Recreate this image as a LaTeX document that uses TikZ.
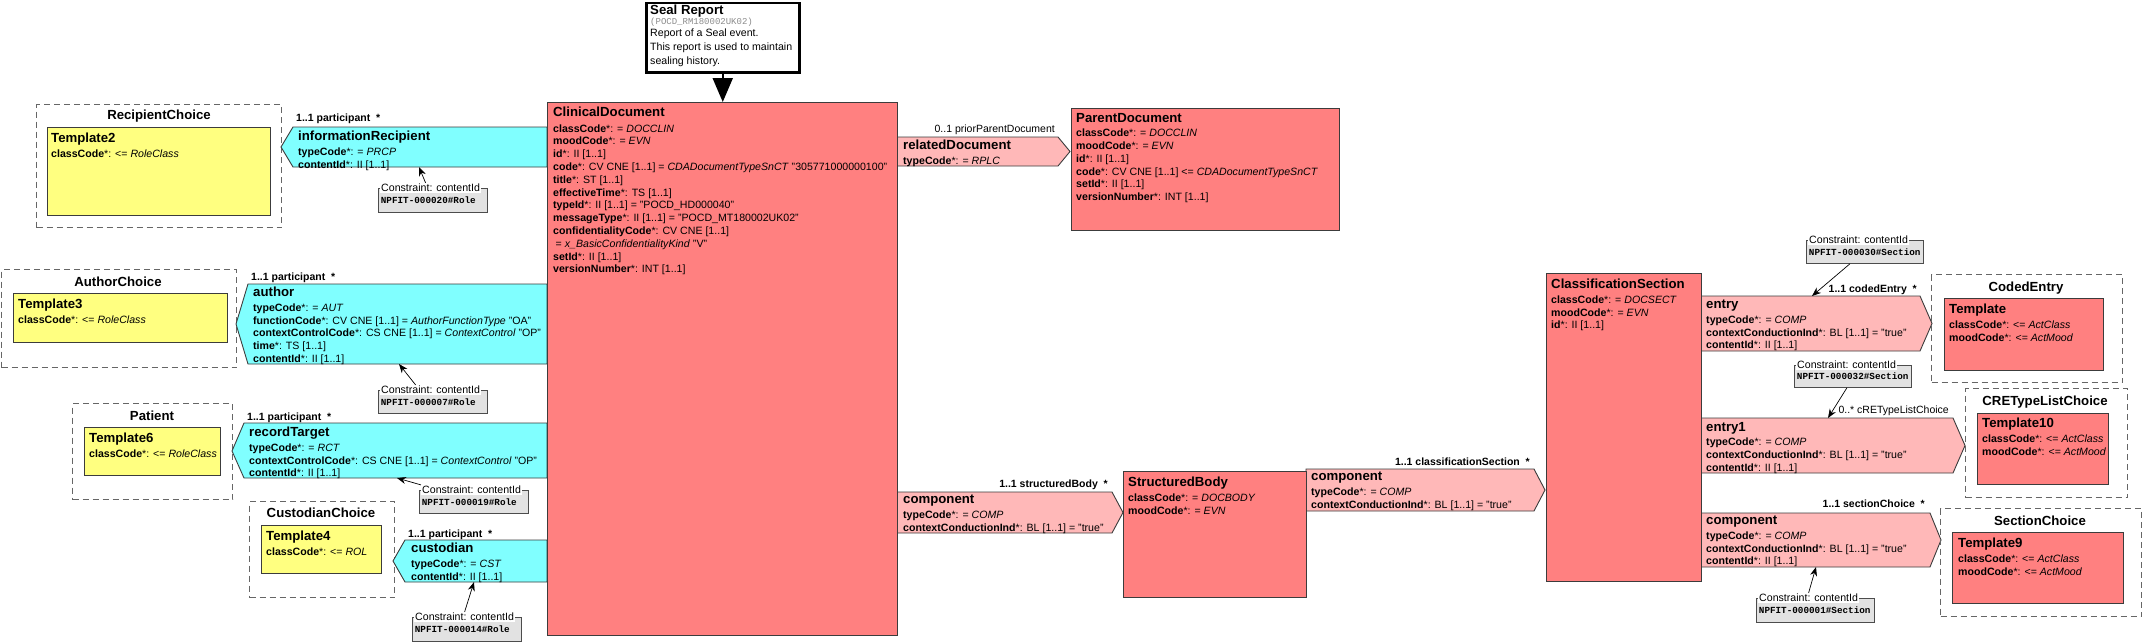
\documentclass[tikz,border=0pt]{standalone}
\usepackage{fontspec}
\setmainfont{Liberation Sans}
\newfontfamily\codefont{Liberation Mono}
\usetikzlibrary{arrows.meta,positioning}

\definecolor{clsred}{RGB}{255,128,128}
\definecolor{rolecyan}{RGB}{128,255,255}
\definecolor{actpink}{RGB}{255,184,184}
\definecolor{tplyellow}{RGB}{255,255,128}
\definecolor{cgray}{RGB}{226,226,226}
\definecolor{edge}{RGB}{60,60,60}

\newcommand\clsttl{\fontsize{13.2}{15}\selectfont\bfseries}
\newcommand\fld[1]{\textbf{#1}*:}

\begin{document}
\begin{tikzpicture}[x=1pt,y=-1pt,
    cls/.style={draw=edge,fill=clsred,line width=0.9pt,anchor=north west,inner sep=0pt},
    tpl/.style={cls,fill=tplyellow},
    choice/.style={draw=black!60,dash pattern=on 6pt off 4pt,line width=1.2pt,anchor=north west,inner sep=0pt},
    role/.style={draw=edge,fill=rolecyan,line width=0.9pt},
    act/.style={draw=edge,fill=actpink,line width=0.9pt},
    txt/.style={anchor=north west,inner sep=0pt,align=left,font=\fontsize{10.6}{12.7}\selectfont},
    head/.style={font=\clsttl,inner sep=0pt},
    card/.style={font=\fontsize{10.5}{12}\selectfont\bfseries,inner sep=0pt},
    cbox/.style={draw=black!70,fill=cgray,line width=0.8pt,anchor=north west,inner sep=2.5pt,align=left,
                 font=\codefont\bfseries\fontsize{9.3}{11}\selectfont},
    clbl/.style={fill=white,inner sep=1pt,anchor=west,font=\fontsize{10.6}{12}\selectfont},
    carrow/.style={-{Stealth[length=9pt,width=7pt]},line width=0.7pt}]

    \useasboundingbox (0,0) rectangle (2143,642);

    % Entry point
    \node[draw,fill=white,line width=2.5pt,anchor=north west,minimum width=153pt,minimum height=69pt,inner sep=0pt] (seal) at (645,2) {};
    \node[txt,font=\fontsize{10.6}{14}\selectfont] (sealt) at (650,4.6) {{\clsttl Seal Report}\\[-3.7pt]
        {\codefont\fontsize{9}{10}\selectfont\color{black!45}(POCD\_RM180002UK02)}\\[-1.7pt]
        Report of a Seal event.\\
        This report is used to maintain\\
        sealing history.};

    % Choice boxes (left)
    \node[choice,minimum width=245pt,minimum height=123pt] (rc) at (36,104) {};
    \node[head] at (159,116) {RecipientChoice};
    \node[tpl,minimum width=223pt,minimum height=88pt] (t2) at (47,127) {};
    \node[txt] at (51,133) {{\clsttl Template2}\\[2pt] \fld{classCode} <= \textit{RoleClass}};

    \node[choice,minimum width=235pt,minimum height=98pt] (ac) at (1,269) {};
    \node[head] at (118,282) {AuthorChoice};
    \node[tpl,minimum width=214pt,minimum height=49pt] (t3) at (13,293) {};
    \node[txt] at (18,299) {{\clsttl Template3}\\[2pt] \fld{classCode} <= \textit{RoleClass}};

    \node[choice,minimum width=160pt,minimum height=96pt] (pt) at (72,403) {};
    \node[head] at (152,416) {Patient};
    \node[tpl,minimum width=136pt,minimum height=48pt] (t6) at (84,427) {};
    \node[txt] at (89,433) {{\clsttl Template6}\\[2pt] \fld{classCode} <= \textit{RoleClass}};

    \node[choice,minimum width=145pt,minimum height=96pt] (cc) at (249,501) {};
    \node[head] at (321,513) {CustodianChoice};
    \node[tpl,minimum width=120pt,minimum height=48pt] (t4) at (261,525) {};
    \node[txt] at (266,531) {{\clsttl Template4}\\[2pt] \fld{classCode} <= \textit{ROL}};

    % Participations
    \draw[role] (281,147) -- (293,127) -- (547,127) -- (547,167) -- (293,167) -- cycle;
    \node[txt] (irt) at (298,131) {{\clsttl informationRecipient}\\[2pt]
        \fld{typeCode} = \textit{PRCP}\\
        \fld{contentId} II [1..1]};
    \node[card,anchor=base west] at (296,121) {1..1 participant~~*};

    \draw[role] (236,324) -- (248,284) -- (547,284) -- (547,364) -- (248,364) -- cycle;
    \node[txt] (aut) at (253,287) {{\clsttl author}\\[2pt]
        \fld{typeCode} = \textit{AUT}\\
        \fld{functionCode} CV CNE [1..1] = \textit{AuthorFunctionType} "OA"\\
        \fld{contextControlCode} CS CNE [1..1] = \textit{ContextControl} "OP"\\
        \fld{time} TS [1..1]\\
        \fld{contentId} II [1..1]};
    \node[card,anchor=base west] at (251,280) {1..1 participant~~*};

    \draw[role] (232,451) -- (244,423) -- (547,423) -- (547,478) -- (244,478) -- cycle;
    \node[txt] (rtt) at (249,427) {{\clsttl recordTarget}\\[2pt]
        \fld{typeCode} = \textit{RCT}\\
        \fld{contextControlCode} CS CNE [1..1] = \textit{ContextControl} "OP"\\
        \fld{contentId} II [1..1]};
    \node[card,anchor=base west] at (247,420) {1..1 participant~~*};

    \draw[role] (393,561) -- (405,540) -- (547,540) -- (547,582) -- (405,582) -- cycle;
    \node[txt] (cst) at (411,543) {{\clsttl custodian}\\[2pt]
        \fld{typeCode} = \textit{CST}\\
        \fld{contentId} II [1..1]};
    \node[card,anchor=base west] at (408,537) {1..1 participant~~*};

    % Act relationships
    \draw[act] (897,137) -- (1058,137) -- (1070,151.5) -- (1058,166) -- (897,166) -- cycle;
    \node[txt] (rdt) at (903,140) {{\clsttl relatedDocument}\\[2pt] \fld{typeCode} = \textit{RPLC}};
    \node[card,anchor=base east,font=\fontsize{10.5}{12}\selectfont] at (1055,132) {0..1 priorParentDocument};

    \draw[act] (897,492) -- (1112,492) -- (1123,512.5) -- (1112,533) -- (897,533) -- cycle;
    \node[txt] (cp1) at (903,495) {{\clsttl component}\\[2pt]
        \fld{typeCode} = \textit{COMP}\\
        \fld{contextConductionInd} BL [1..1] = "true"};
    \node[card,anchor=base east] at (1108,487) {1..1 structuredBody~~*};

    \draw[act] (1306,469) -- (1534,469) -- (1545,490) -- (1534,511) -- (1306,511) -- cycle;
    \node[txt] (cp2) at (1311,472) {{\clsttl component}\\[2pt]
        \fld{typeCode} = \textit{COMP}\\
        \fld{contextConductionInd} BL [1..1] = "true"};
    \node[card,anchor=base east] at (1530,465) {1..1 classificationSection~~*};

    \draw[act] (1701,296) -- (1920,296) -- (1932,323.5) -- (1920,351) -- (1701,351) -- cycle;
    \node[txt] (ent) at (1706,300) {{\clsttl entry}\\[2pt]
        \fld{typeCode} = \textit{COMP}\\
        \fld{contextConductionInd} BL [1..1] = "true"\\
        \fld{contentId} II [1..1]};
    \node[card,anchor=base east] at (1917,292) {1..1 codedEntry~~*};

    \draw[act] (1701,418) -- (1953,418) -- (1965,445.5) -- (1953,473) -- (1701,473) -- cycle;
    \node[txt] (en1) at (1706,422) {{\clsttl entry1}\\[2pt]
        \fld{typeCode} = \textit{COMP}\\
        \fld{contextConductionInd} BL [1..1] = "true"\\
        \fld{contentId} II [1..1]};
    \node[card,anchor=base east,font=\fontsize{10.5}{12}\selectfont] at (1949,413) {0..* cRETypeListChoice};

    \draw[act] (1701,513) -- (1930,513) -- (1941,540) -- (1930,567) -- (1701,567) -- cycle;
    \node[txt] (cp3) at (1706,516) {{\clsttl component}\\[2pt]
        \fld{typeCode} = \textit{COMP}\\
        \fld{contextConductionInd} BL [1..1] = "true"\\
        \fld{contentId} II [1..1]};
    \node[card,anchor=base east] at (1925,507) {1..1 sectionChoice~~*};

    % Classes
    \node[cls,minimum width=350pt,minimum height=533pt] (cd) at (547,102) {};
    \node[txt,font=\fontsize{10.6}{12.8}\selectfont] (cdt) at (553,107) {{\clsttl ClinicalDocument}\\[2.5pt]
        \fld{classCode} = \textit{DOCCLIN}\\
        \fld{moodCode} = \textit{EVN}\\
        \fld{id} II [1..1]\\
        \fld{code} CV CNE [1..1] = \textit{CDADocumentTypeSnCT} "305771000000100"\\
        \fld{title} ST [1..1]\\
        \fld{effectiveTime} TS [1..1]\\
        \fld{typeId} II [1..1] = "POCD\_HD000040"\\
        \fld{messageType} II [1..1] = "POCD\_MT180002UK02"\\
        \fld{confidentialityCode} CV CNE [1..1]\\
        \hspace{2.5pt}= \textit{x\_BasicConfidentialityKind} "V"\\
        \fld{setId} II [1..1]\\
        \fld{versionNumber} INT [1..1]};

    \node[cls,minimum width=268pt,minimum height=122pt] (pd) at (1071,108) {};
    \node[txt] (pdt) at (1076,113) {{\clsttl ParentDocument}\\[2pt]
        \fld{classCode} = \textit{DOCCLIN}\\
        \fld{moodCode} = \textit{EVN}\\
        \fld{id} II [1..1]\\
        \fld{code} CV CNE [1..1] <= \textit{CDADocumentTypeSnCT}\\
        \fld{setId} II [1..1]\\
        \fld{versionNumber} INT [1..1]};

    \node[cls,minimum width=183pt,minimum height=126pt] (sb) at (1123,471) {};
    \node[txt] (sbt) at (1128,477) {{\clsttl StructuredBody}\\[2pt]
        \fld{classCode} = \textit{DOCBODY}\\
        \fld{moodCode} = \textit{EVN}};

    \node[cls,minimum width=155pt,minimum height=308pt] (cs) at (1546,273) {};
    \node[txt] (cst2) at (1551,279) {{\clsttl ClassificationSection}\\[2pt]
        \fld{classCode} = \textit{DOCSECT}\\
        \fld{moodCode} = \textit{EVN}\\
        \fld{id} II [1..1]};

    % Choice boxes (right)
    \node[choice,minimum width=191pt,minimum height=108pt] (ce) at (1931,274) {};
    \node[head] at (2026,288) {CodedEntry};
    \node[cls,minimum width=159pt,minimum height=72pt] (tp) at (1944,298) {};
    \node[txt] at (1949,304) {{\clsttl Template}\\[2pt]
        \fld{classCode} <= \textit{ActClass}\\
        \fld{moodCode} <= \textit{ActMood}};

    \node[choice,minimum width=162pt,minimum height=109pt] (cr) at (1965,388) {};
    \node[head] at (2045,402) {CRETypeListChoice};
    \node[cls,minimum width=131pt,minimum height=71pt] (t10) at (1977,413) {};
    \node[txt] at (1982,418) {{\clsttl Template10}\\[2pt]
        \fld{classCode} <= \textit{ActClass}\\
        \fld{moodCode} <= \textit{ActMood}};

    \node[choice,minimum width=201pt,minimum height=108pt] (sc) at (1940,508) {};
    \node[head] at (2040,521) {SectionChoice};
    \node[cls,minimum width=171pt,minimum height=71pt] (t9) at (1952,532) {};
    \node[txt] at (1958,538) {{\clsttl Template9}\\[2pt]
        \fld{classCode} <= \textit{ActClass}\\
        \fld{moodCode} <= \textit{ActMood}};

    % Constraints
    \node[cbox,text width=104pt,minimum height=24pt] (c20b) at (378,188) {NPFIT-000020\#Role};
    \node[clbl] (c20) at ([xshift=2pt]c20b.north west) {Constraint: contentId};
    \node[cbox,text width=104pt,minimum height=23pt] (c7b) at (378,390) {NPFIT-000007\#Role};
    \node[clbl] (c7) at ([xshift=2pt]c7b.north west) {Constraint: contentId};
    \node[cbox,text width=104pt,minimum height=23pt] (c19b) at (419,490) {NPFIT-000019\#Role};
    \node[clbl] (c19) at ([xshift=2pt]c19b.north west) {Constraint: contentId};
    \node[cbox,text width=104pt,minimum height=24pt] (c14b) at (412,617) {NPFIT-000014\#Role};
    \node[clbl] (c14) at ([xshift=2pt]c14b.north west) {Constraint: contentId};
    \node[cbox,text width=112pt,minimum height=23pt] (c30b) at (1806,240) {NPFIT-000030\#Section};
    \node[clbl] (c30) at ([xshift=2pt]c30b.north west) {Constraint: contentId};
    \node[cbox,text width=112pt,minimum height=22pt] (c32b) at (1794,365) {NPFIT-000032\#Section};
    \node[clbl] (c32) at ([xshift=2pt]c32b.north west) {Constraint: contentId};
    \node[cbox,text width=113pt,minimum height=24pt] (c1b) at (1756,598) {NPFIT-000001\#Section};
    \node[clbl] (c1) at ([xshift=2pt]c1b.north west) {Constraint: contentId};

    \coordinate (irh) at (419,167);
    \coordinate (auh) at (399,364);
    \coordinate (rth) at (397,478);
    \coordinate (csh) at (474,582);
    \coordinate (enh) at (1812,296);
    \coordinate (e1h) at (1828,418);
    \coordinate (c3h) at (1816,567);

    \draw[carrow] ([xshift=-5pt]c20.north) -- (irh);
    \draw[carrow] ([xshift=-15pt]c7.north) -- (auh);
    \draw[carrow] (c19.north west) -- (rth);
    \draw[carrow] (c14.north) -- (csh);
    \draw[carrow] ([xshift=-15pt]c30b.south) -- (enh);
    \draw[carrow] ([xshift=-6pt]c32b.south) -- (e1h);
    \draw[carrow] (c1.north) -- (c3h);

    % Entry arrow
    \draw[line width=2pt,-{Triangle[length=24pt,width=20pt]}] (seal.south) -- (seal.south |- cd.north);
\end{tikzpicture}
\end{document}
